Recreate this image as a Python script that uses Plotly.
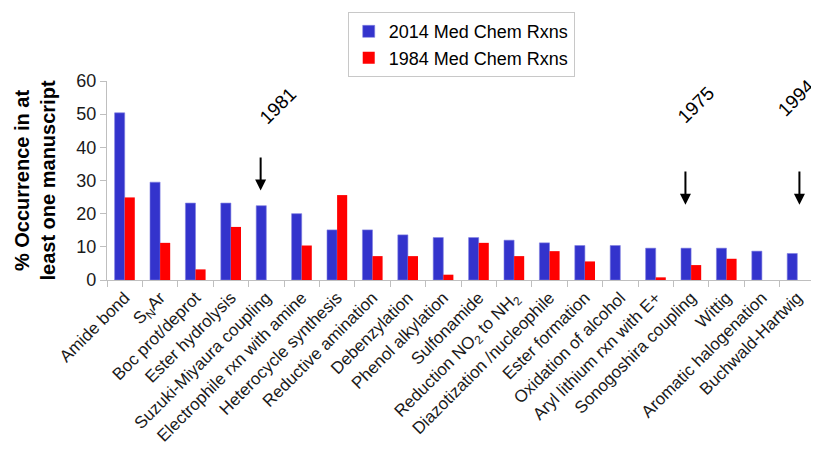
import plotly.graph_objects as go

categories = [
    "Amide bond", "S<sub>N</sub>Ar", "Boc prot/deprot", "Ester hydrolysis",
    "Suzuki-Miyaura coupling", "Electrophile rxn with amine", "Heterocycle synthesis",
    "Reductive amination", "Debenzylation", "Phenol alkylation", "Sulfonamide",
    "Reduction NO<sub>2</sub> to NH<sub>2</sub>", "Diazotization /nucleophile",
    "Ester formation", "Oxidation of alcohol", "Aryl lithium rxn with E+",
    "Sonogoshira coupling", "Wittig", "Aromatic halogenation", "Buchwald-Hartwig",
]
rxn_2014 = [50.4, 29.5, 23.2, 23.2, 22.4, 20.0, 15.1, 15.1, 13.6, 12.8,
            12.8, 12.0, 11.2, 10.4, 10.4, 9.6, 9.6, 9.6, 8.7, 8.0]
rxn_1984 = [24.9, 11.2, 3.2, 16.0, 0, 10.4, 25.6, 7.2, 7.2, 1.6,
            11.2, 7.2, 8.7, 5.6, 0, 0.8, 4.5, 6.4, 0, 0]
year_labels = ["1981", "1975", "1994"]
year_idx = [4, 16, 19]

FONT = "Liberation Sans, Arial, sans-serif"

fig = go.Figure()
fig.add_trace(go.Bar(x=list(range(len(categories))), y=rxn_2014, name="2014 Med Chem Rxns",
                     marker=dict(color="#3333CC", line=dict(color="#8080E0", width=0.6))))
fig.add_trace(go.Bar(x=list(range(len(categories))), y=rxn_1984, name="1984 Med Chem Rxns",
                     marker=dict(color="#FF0000", line=dict(width=0))))

ann = []
text_pos = [(4.34, 52.5), (16.15, 52.8), (18.98, 54.9)]
arrow_x = [3.84, 15.84, 19.06]
tip_y = [27.0, 22.7, 22.7]
tail_y = [37.4, 33.2, 33.2]
for lab, xa, (tx, ty), t0, t1 in zip(year_labels, arrow_x, text_pos, tip_y, tail_y):
    ann.append(dict(x=xa, y=t0, ax=xa, ay=t1, xref="x", yref="y", axref="x", ayref="y",
                    text="", showarrow=True, arrowhead=2, arrowsize=1.1, arrowwidth=2,
                    arrowcolor="black"))
    ann.append(dict(x=tx, y=ty, xref="x", yref="y", text=lab, showarrow=False,
                    textangle=-45, font=dict(family=FONT, size=19, color="black")))

# page body has an 8px margin, so the figure is 8px smaller and shifted
fig.update_layout(
    width=811, height=454,
    margin=dict(l=99, r=4, t=73, b=182, autoexpand=False),
    paper_bgcolor="white", plot_bgcolor="white",
    barmode="group", bargap=0.43, bargroupgap=0,
    font=dict(family=FONT, size=17, color="black"),
    legend=dict(x=0.34, y=1.346, xanchor="left", yanchor="top",
                bordercolor="#C8C8C8", borderwidth=1, bgcolor="white",
                font=dict(size=18), itemwidth=30, tracegroupgap=0),
    annotations=ann,
    showlegend=True,
)
fig.update_xaxes(
    tickmode="array", tickvals=list(range(len(categories))), ticktext=categories,
    tickangle=-45, range=[-0.5, len(categories) - 0.5], automargin=False,
    showline=True, linecolor="#BFBFBF", linewidth=1.2,
    ticks="", showgrid=False, tickfont=dict(size=17, color="#1a1a1a"),
)
fig.update_xaxes(minor=dict(tickmode="array", tickvals=[i - 0.5 for i in range(len(categories) + 1)],
                            ticks="outside", ticklen=6, tickcolor="#BFBFBF", showgrid=False))
fig.update_yaxes(
    range=[0, 60], tickvals=[0, 10, 20, 30, 40, 50, 60], automargin=False,
    showline=True, linecolor="#BFBFBF", linewidth=1.2,
    ticks="outside", ticklen=6, tickcolor="#BFBFBF", showgrid=False, zeroline=False,
    tickfont=dict(size=18, color="#1a1a1a"),
    title=dict(text="<b>% Occurrence in at<br>least one manuscript</b>",
               font=dict(size=20, color="black"), standoff=15),
)

fig.write_html("out.html")
